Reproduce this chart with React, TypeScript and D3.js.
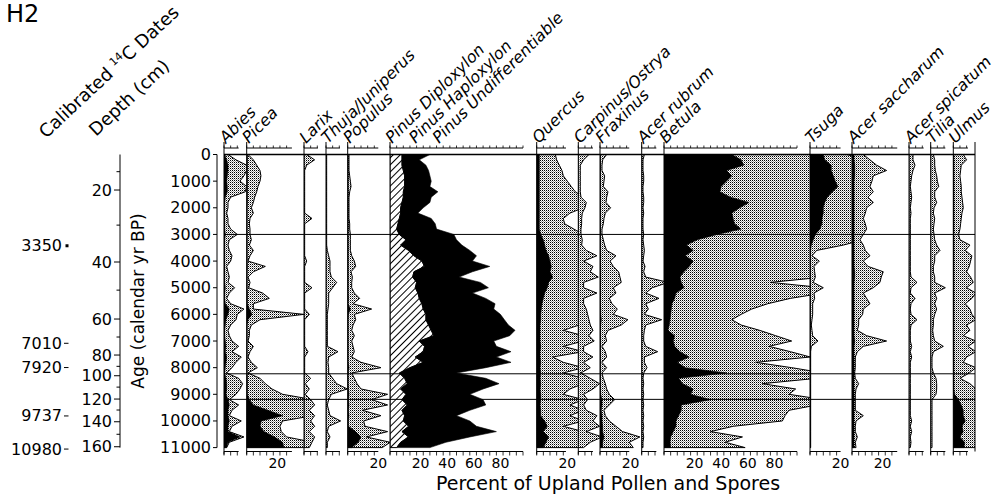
import React from "react";
import * as d3 from "d3";

// Sample ages (calendar yr BP)
const AGES = [
  0, 200, 400, 600, 800, 1000, 1200, 1400, 1600, 1800,
  2000, 2200, 2400, 2600, 2800, 3000, 3200, 3400, 3600, 3800,
  4000, 4200, 4400, 4600, 4800, 5000, 5200, 5400, 5600, 5800,
  6000, 6200, 6400, 6600, 6800, 7000, 7200, 7400, 7600, 7800,
  8000, 8200, 8400, 8600, 8800, 9000, 9200, 9400, 9600, 9800,
  10000, 10200, 10400, 10600, 10800, 11000,
];

// Age axis ticks
const AGE_TICKS = [0, 1000, 2000, 3000, 4000, 5000, 6000, 7000, 8000, 9000, 10000, 11000];

// Depth (cm) and the age at which each depth sits
const DEPTHS = [10, 20, 30, 40, 50, 60, 70, 80, 90, 100, 110, 120, 130, 140, 150, 160];
const DEPTH_AGES = [645, 1333, 2650, 4035, 5090, 6175, 6850, 7526, 7950, 8303, 8730, 9178, 9590, 10030, 10500, 10968];

// Calibrated radiocarbon dates
const DATES = [3350, 7010, 7920, 9737, 10980];
const DATE_MARKS = ["dot", "dash", "dash", "dash", "dash"];

// Zone boundaries (yr BP)
const ZONES = [3000, 8230, 9190];

// Percent values: solid curve and shaded (exaggerated) curve per taxon
const abies = [
  0.5, 2, 3, 3, 2.5, 2, 2.5, 2.5, 1, 0.5,
  0.5, 0.5, 0.5, 0.5, 0.5, 1, 0.5, 0.5, 0.5, 0.5,
  0.5, 0.5, 0.5, 0.5, 0.5, 1, 0.5, 0.5, 1, 4,
  3, 1.5, 1, 0.5, 0.5, 1, 1.5, 1, 2, 1.5,
  1, 0.5, 1.5, 2, 2, 1.5, 3, 4, 3, 3,
  4, 3, 3, 12, 3, 2,
];
const abiesExag = [
  3, 9, 17, 17, 15, 12, 17, 16, 5, 3,
  3, 2, 3, 3, 5, 10, 4, 3, 4, 6,
  5, 2, 3, 4, 3, 8, 4, 2, 5, 15,
  10, 9, 5, 3, 4, 6, 11, 6, 13, 9,
  6, 2, 11, 14, 12, 9, 4, 11, 6, 4,
  13, 6, 4, 15, 4, 2,
];
const picea = [
  0.5, 0.5, 0.5, 0.5, 0.5, 0.5, 0.5, 0.5, 0.5, 0.5,
  0.3, 0.3, 0.3, 0.3, 0.3, 0.3, 0.3, 0.3, 0.3, 0.3,
  0.3, 0.5, 0.3, 0.3, 0.3, 0.3, 0.5, 0.5, 0.5, 2,
  4, 1, 0.3, 0.3, 0.3, 0.3, 0.3, 0.3, 0.3, 0.3,
  0.3, 0.3, 0.5, 0.5, 0.5, 0.5, 2, 5, 16, 27,
  11, 10, 13, 21, 27, 28,
];
const piceaExag = [
  1, 5, 7.5, 10, 10.7, 10, 8.5, 7.5, 6, 5,
  3.5, 5, 2.5, 2, 2.5, 2.5, 3.5, 2, 5, 2.5,
  1, 14, 5, 1, 2.5, 1.5, 12, 17, 5, 5,
  43, 10, 3.5, 2, 2, 1, 5, 2.5, 1, 3.5,
  8, 1, 10, 14, 19, 27, 50, 50, 50, 50,
  27, 25, 26, 30, 50, 50,
];
const larixExag = [
  2, 8, 2, 0.5, 0.5, 0.5, 0.5, 0.5, 0.5, 0.5,
  0.5, 0.5, 6, 0.5, 0.5, 0.5, 0.5, 0.5, 0.5, 0.5,
  2, 0.5, 0.5, 0.5, 0.5, 6, 0.5, 0.5, 0.5, 0.5,
  4, 0.5, 0.5, 0.5, 0.5, 0.5, 0.5, 3, 0.5, 0.5,
  0.5, 0.5, 5, 1, 4, 1, 5, 8, 4, 8,
  5, 8, 4, 8, 6, 4,
];
const thujaExag = [
  0.5, 0.5, 0.5, 0.5, 0.5, 0.5, 0.5, 0.5, 0.5, 0.5,
  0.5, 0.5, 0.5, 0.5, 0.5, 0.5, 0.5, 0.5, 1, 2,
  3, 3, 3, 4, 8, 5, 2, 2, 2, 1.5,
  1, 1, 1, 1, 1, 1, 1, 9, 2, 1.5,
  2, 2, 5, 8, 16, 4, 2, 1, 2, 3,
  11, 2, 1, 3, 1, 1,
];
const populus = [
  0.3, 0.3, 0.3, 0.3, 0.3, 0.3, 0.3, 0.3, 0.3, 0.3,
  0.3, 0.3, 0.3, 0.3, 0.3, 0.3, 0.3, 0.3, 0.3, 0.3,
  0.3, 0.3, 0.3, 0.3, 0.3, 0.3, 0.3, 0.5, 0.3, 2,
  0.5, 0.3, 0.3, 0.3, 0.3, 0.3, 0.3, 0.3, 0.3, 0.3,
  1, 0.3, 0.3, 0.3, 0.5, 1, 0.5, 1, 0.5, 1,
  0.5, 0.5, 6, 10, 8, 3,
];
const populusExag = [
  1, 1, 1, 1, 1.5, 2, 2.5, 1.5, 1, 1,
  1, 1, 1, 1.5, 1.5, 2, 2, 2, 2, 3,
  5, 6, 2.5, 3.5, 3, 3, 5, 9, 4, 18,
  5, 6, 4, 3, 5, 3, 4, 5, 3, 10,
  25, 3, 5, 7, 10, 30, 18, 30, 11, 25,
  12, 13, 30, 14, 32, 26,
];
const pinusDiploxylon = [
  9, 9, 9, 10, 11, 11, 11, 10, 10, 9,
  8, 8, 7, 6, 5, 7, 12, 8, 14, 18,
  24, 26, 18, 17, 20, 19, 21, 22, 24, 25,
  27, 27, 29, 31, 33, 22, 26, 25, 19, 25,
  15, 7, 11, 13, 8, 12, 9, 13, 9, 11,
  10, 14, 9, 14, 8, 5,
];
const pinusHaploxylon = [
  21, 13, 18, 19, 19, 20, 19, 26, 21, 21,
  17, 13, 24, 28, 30, 41, 38, 46, 46, 47,
  38, 49, 44, 35, 48, 55, 41, 50, 55, 53,
  56, 59, 60, 63, 57, 56, 54, 66, 61, 66,
  57, 43, 61, 69, 62, 48, 61, 59, 51, 39,
  50, 51, 71, 46, 34, 25,
];
const quercus = [
  2, 2, 2, 2, 2, 2, 2, 2, 2, 2,
  2, 2, 2, 2, 2, 3, 5, 6, 7, 9,
  10, 11, 10, 12, 9, 8, 6, 5, 4, 3.5,
  3, 3, 2.5, 2.5, 2.5, 2.5, 3, 2.5, 2.5, 3,
  2.5, 3, 2.5, 3, 2.5, 3, 3, 2.5, 3, 3,
  6, 8, 5, 9, 7, 5,
];
const quercusExag = [
  14, 15, 17, 19, 20, 23, 26, 29, 35, 35,
  35, 25, 20, 21, 28, 35, 35, 35, 35, 35,
  35, 35, 35, 35, 35, 35, 35, 35, 35, 35,
  35, 35, 32, 20, 35, 35, 20, 35, 12, 20,
  35, 20, 35, 35, 25, 20, 35, 25, 35, 25,
  35, 20, 35, 35, 35, 35,
];
const carpinusExag = [
  8, 4, 1.5, 1.5, 1.5, 1.5, 1.5, 1.5, 2, 6,
  5, 3, 2.5, 2.5, 2, 2, 3, 2.5, 6, 14,
  4, 11, 9, 15, 4, 4, 14, 4, 4, 6,
  7, 8, 9, 11, 8, 12, 4, 4, 11, 4,
  9, 2, 9, 16, 11, 4, 7, 4, 6, 14,
  11, 16, 6, 18, 9, 4,
];
const fraxinus = [
  0.3, 0.3, 0.3, 0.3, 0.3, 0.3, 0.3, 0.3, 0.3, 0.3,
  0.3, 0.3, 0.3, 0.3, 0.3, 0.3, 0.3, 0.3, 0.3, 0.5,
  0.3, 0.5, 0.5, 0.5, 0.5, 0.3, 0.5, 0.3, 0.3, 0.5,
  0.5, 1, 0.5, 0.3, 0.3, 0.3, 0.3, 0.3, 0.3, 0.3,
  0.3, 0.3, 0.3, 0.3, 0.3, 0.5, 1.5, 1.5, 1, 1.5,
  1.5, 2, 2, 3, 2, 2,
];
const fraxinusExag = [
  5, 2, 1.5, 1.5, 3.5, 3, 2.5, 6, 5, 4.5,
  8, 4, 3, 2.5, 1.5, 1.5, 2.5, 3.5, 5, 12,
  7.5, 10, 14, 15, 16, 10, 12, 7, 9, 13,
  10, 21, 16, 6, 4, 5, 1.5, 4, 5, 1.5,
  5, 1.5, 2.5, 4, 5, 7, 11, 7, 3, 4,
  7, 12, 17, 30, 22, 25,
];
const acerRubrumExag = [
  2, 1, 1, 1, 1.5, 1.5, 1, 1, 1.5, 1.5,
  1, 1.5, 1, 1, 1, 1.5, 1, 1.5, 2, 1.5,
  1, 2.5, 1.5, 3, 20, 8, 3, 13, 3, 5,
  2, 15, 3, 2, 1.5, 1.5, 3, 12, 2, 2,
  4, 1.5, 1, 1.5, 1, 1.5, 1, 1.5, 1, 1.5,
  1, 1.5, 1, 1.5, 1, 1,
];
const betula = [
  51, 58, 60, 47, 51, 47, 43, 42, 50, 64,
  57, 51, 52, 53, 58, 40, 25, 17, 22, 16,
  22, 19, 15, 12, 13, 15, 9, 8, 6, 5.5,
  5, 4.5, 4, 3, 8, 7, 8, 12, 19, 10,
  16, 47, 11, 14, 22, 20, 35, 13, 13, 11,
  9, 9, 7, 5, 4.5, 5,
];
const betulaExag = [
  120, 120, 120, 120, 120, 120, 120, 120, 120, 120,
  120, 120, 120, 120, 120, 120, 120, 120, 120, 120,
  120, 120, 120, 120, 80, 120, 120, 95, 78, 66,
  58, 51, 58, 72, 84, 96, 79, 95, 110, 69,
  96, 120, 115, 74, 99, 94, 120, 115, 94, 91,
  89, 52, 35, 59, 46, 61,
];
const tsuga = [
  10, 11, 16, 16, 17.5, 19, 21, 17, 13, 11,
  10, 10, 9, 9, 7.5, 4, 2.5, 1, 0.3, 0.3,
  0.3, 0.3, 0.3, 0.3, 0.3, 0.3, 0.3, 0.3, 0.3, 0.3,
  0.3, 0.3, 0.3, 0.3, 0.3, 0.3, 0.3, 0.3, 0.3, 0.3,
  0.3, 0.3, 0.3, 0.3, 0.3, 0.3, 0.3, 0.3, 0.3, 0.3,
  0.3, 0.3, 0.3, 0.3, 0.3, 0.3,
];
const tsugaExag = [
  28, 40, 40, 40, 40, 40, 40, 40, 40, 40,
  40, 40, 40, 40, 40, 40, 40, 25, 5, 1.5,
  7, 3, 3.5, 4, 2.5, 10, 3, 3.5, 2, 2,
  2, 1.5, 1, 1.5, 2, 6, 1, 0.5, 0.5, 0.5,
  0.5, 0.5, 0.5, 0.5, 0.5, 0.5, 0.5, 0.5, 0.5, 0.5,
  0.5, 0.5, 0.5, 0.5, 0.5, 0.5,
];
const acerSaccharum = [
  1.5, 1.5, 2, 2, 2, 1.5, 1.5, 1.5, 1.5, 1.5,
  1.5, 1.5, 1.5, 1.5, 1.5, 1.5, 1.5, 1.5, 1.5, 1.5,
  1.5, 1.5, 2, 2, 1.5, 1.5, 1.5, 1.5, 1.5, 1.5,
  1.5, 1.5, 1.5, 1.5, 1.5, 2, 1.5, 1.5, 1.5, 1.5,
  1.5, 1.5, 1.5, 1.5, 1.5, 1.5, 1.5, 1.5, 1.5, 1.5,
  1.5, 1.5, 1.5, 1.5, 1.5, 1.5,
];
const acerSaccharumExag = [
  8.5, 13.5, 18.5, 26, 16, 15, 13.5, 16, 12, 16,
  11, 10, 8.5, 10, 11, 8.5, 6, 8.5, 10, 13.5,
  8.5, 12, 23.5, 22, 21, 16, 8.5, 11, 13.5, 8.5,
  8, 5, 5, 4, 11, 26, 8.5, 4, 2.5, 2.5,
  2.5, 2, 2.5, 5, 3, 2.5, 2.5, 2.5, 2.5, 8.5,
  3, 2.5, 2.5, 4, 2.5, 3,
];
const acerSpicatumExag = [
  3, 3, 4.5, 3, 2, 1.5, 1, 1.5, 2, 1.5,
  1, 1.5, 1, 1, 1, 1, 1, 1, 1, 1,
  1, 1, 1, 1.5, 6, 1.5, 1, 4.5, 1.5, 1,
  1.5, 6, 1.5, 1, 1, 1, 2, 1, 2, 1,
  1, 1, 1, 1, 1, 1, 1, 1, 1, 1,
  2, 1, 2, 1, 1.5, 1,
];
const tiliaExag = [
  2, 3, 3, 3.5, 4.5, 5, 6, 3, 3, 4.5,
  2.5, 2, 3, 2.5, 2, 2.5, 3, 4.5, 7, 3,
  3, 2, 2, 3, 3, 11, 3, 4.5, 3, 4.5,
  3, 2, 2, 1.5, 2, 3, 9.5, 2, 1, 1,
  1, 2, 4, 4.5, 4.5, 4, 1, 1, 1, 1,
  1, 1, 1, 1, 1, 1,
];
const ulmus = [
  0.5, 0.5, 0.5, 0.5, 0.5, 0.5, 0.5, 0.5, 0.5, 0.5,
  0.5, 0.5, 0.5, 0.5, 0.5, 0.5, 0.5, 0.5, 0.5, 0.5,
  0.5, 0.5, 0.5, 0.5, 0.5, 0.5, 0.5, 0.5, 0.5, 0.5,
  0.5, 0.5, 0.5, 0.5, 0.5, 0.5, 0.5, 0.5, 0.5, 0.5,
  0.5, 0.5, 0.5, 0.5, 0.5, 1, 4, 6, 7.5, 7.5,
  9, 6.5, 7.5, 5, 8.5, 8,
];
const ulmusExag = [
  7.5, 10, 6, 5.5, 5, 5.5, 6, 6, 6.5, 7,
  7.5, 6.5, 6, 5.5, 5, 4, 5, 12.5, 9, 14,
  13, 12, 10, 13, 15, 10, 17, 14, 9, 12.5,
  14, 17, 10, 12.5, 7.5, 17, 11, 17, 10, 7.5,
  17, 12, 5, 12.5, 17, 17, 20, 20, 20, 20,
  20, 20, 20, 20, 20, 20,
];

// ---- layout ----
const W = 996;
const H = 502;
const PX_PER_PCT = 1.33;
const TOP_SCALE_Y = 148;
const BOTTOM_SCALE_Y = 451.5;
const AXIS_TOP = 142;
const RIGHT_EDGE = 975;
const FONT = "'DejaVu Sans', sans-serif";

const yAge = d3.scaleLinear().domain([0, 11000]).range([154.5, 447.6]);

interface Panel {
  labels: string[];
  left: number;
  edge: number;
  axisMax: number;
  tickLabels: number[];
  solid?: number[];
  shade?: number[];
  hatch?: number[];
  stack?: number[];
}

const PANELS: Panel[] = [
  { labels: ["Abies"], left: 224, edge: 246.7, axisMax: 11, tickLabels: [], solid: abies, shade: abiesExag },
  { labels: ["Picea"], left: 246.7, edge: 304, axisMax: 34, tickLabels: [20], solid: picea, shade: piceaExag },
  { labels: ["Larix"], left: 304, edge: 326, axisMax: 10.5, tickLabels: [], shade: larixExag },
  { labels: ["Thuja/Juniperus"], left: 326, edge: 347.7, axisMax: 10.5, tickLabels: [], shade: thujaExag },
  { labels: ["Populus"], left: 347.7, edge: 390, axisMax: 23, tickLabels: [20], solid: populus, shade: populusExag },
  {
    labels: ["Pinus Diploxylon", "Pinus Haploxylon", "Pinus Undifferentiable"],
    left: 390, edge: 536.7, axisMax: 100, tickLabels: [20, 40, 60, 80],
    hatch: pinusDiploxylon, stack: pinusHaploxylon,
  },
  { labels: ["Quercus"], left: 536.7, edge: 578.3, axisMax: 22, tickLabels: [20], solid: quercus, shade: quercusExag },
  { labels: ["Carpinus/Ostrya"], left: 578.3, edge: 600, axisMax: 11, tickLabels: [], shade: carpinusExag },
  { labels: ["Fraxinus"], left: 600, edge: 641.7, axisMax: 22, tickLabels: [20], solid: fraxinus, shade: fraxinusExag },
  { labels: ["Acer rubrum"], left: 641.7, edge: 664, axisMax: 11, tickLabels: [], shade: acerRubrumExag },
  { labels: ["Betula"], left: 664, edge: 810, axisMax: 100, tickLabels: [20, 40, 60, 80], solid: betula, shade: betulaExag },
  { labels: ["Tsuga"], left: 810, edge: 852, axisMax: 23, tickLabels: [20], solid: tsuga, shade: tsugaExag },
  { labels: ["Acer saccharum"], left: 852, edge: 909, axisMax: 34, tickLabels: [20], solid: acerSaccharum, shade: acerSaccharumExag },
  { labels: ["Acer spicatum"], left: 909, edge: 930.7, axisMax: 11, tickLabels: [], shade: acerSpicatumExag },
  { labels: ["Tilia"], left: 930.7, edge: 953.3, axisMax: 11, tickLabels: [], shade: tiliaExag },
  { labels: ["Ulmus"], left: 953.3, edge: RIGHT_EDGE, axisMax: 11, tickLabels: [], solid: ulmus, shade: ulmusExag },
];

function areaPath(x: d3.ScaleLinear<number, number>, values: number[], base?: number[]) {
  const gen = d3
    .area<number>()
    .curve(d3.curveLinear)
    .y((_, j) => yAge(AGES[j]))
    .x0((_, j) => x(base ? base[j] : 0))
    .x1((v, j) => x((base ? base[j] : 0) + v));
  return gen(values) || "";
}

function PanelView({ p, i }: { p: Panel; i: number }) {
  const x = d3.scaleLinear().domain([0, 100]).range([p.left, p.left + 100 * PX_PER_PCT]);
  const ticks = d3.range(0, p.axisMax + 0.001, 5);
  const axisEnd = x(p.axisMax);
  return (
    <g>
      <g clipPath={`url(#clip${i})`}>
        {p.shade && (
          <path d={areaPath(x, p.shade)} fill="url(#stipple)" stroke="#000" strokeWidth={1} strokeLinejoin="miter" />
        )}
        {p.solid && <path d={areaPath(x, p.solid)} fill="#000" stroke="#000" strokeWidth={0.6} />}
        {p.hatch && (
          <path d={areaPath(x, p.hatch)} fill="url(#hatch)" stroke="#000" strokeWidth={1} />
        )}
        {p.hatch && p.stack && (
          <path d={areaPath(x, p.stack, p.hatch)} fill="#000" stroke="#000" strokeWidth={0.6} />
        )}
      </g>
      {/* panel zero line */}
      <line x1={p.left} x2={p.left} y1={AXIS_TOP} y2={BOTTOM_SCALE_Y + 3} stroke="#000" strokeWidth={1} />
      {/* top scale */}
      <line x1={p.left} x2={axisEnd} y1={TOP_SCALE_Y} y2={TOP_SCALE_Y} stroke="#000" strokeWidth={1} />
      {ticks.map((t) => (
        <line key={`tt${t}`} x1={x(t)} x2={x(t)} y1={TOP_SCALE_Y - 2.5} y2={TOP_SCALE_Y} stroke="#000" strokeWidth={0.8} />
      ))}
      {/* bottom scale */}
      <line x1={p.left} x2={axisEnd} y1={BOTTOM_SCALE_Y} y2={BOTTOM_SCALE_Y} stroke="#000" strokeWidth={1} />
      {ticks.map((t) => (
        <line key={`bt${t}`} x1={x(t)} x2={x(t)} y1={BOTTOM_SCALE_Y} y2={BOTTOM_SCALE_Y + 4} stroke="#000" strokeWidth={0.8} />
      ))}
      {p.tickLabels.map((t) => (
        <text key={`bl${t}`} x={x(t) + 4} y={468} fontSize={14} textAnchor="middle" fill="#000">
          {t}
        </text>
      ))}
      {p.labels.map((lab, k) => (
        <text
          key={lab}
          transform={`translate(${p.left + 2 + k * 23.5},144) rotate(-45)`}
          fontSize={16}
          fontStyle="italic"
          fill="#000"
        >
          {lab}
        </text>
      ))}
    </g>
  );
}

export default function App() {
  return (
    <svg
      width={W}
      height={H}
      viewBox={`0 0 ${W} ${H}`}
      style={{ position: "absolute", left: 0, top: 0, background: "#fff" }}
      fontFamily={FONT}
    >
      <defs>
        <pattern id="stipple" width={2} height={2} patternUnits="userSpaceOnUse">
          <rect x={0} y={0} width={1} height={1} fill="#000" />
          <rect x={1} y={1} width={1} height={1} fill="#9a9a9a" />
        </pattern>
        <pattern id="hatch" width={5} height={5} patternUnits="userSpaceOnUse" patternTransform="rotate(45)">
          <line x1={2.5} y1={0} x2={2.5} y2={5} stroke="#000" strokeWidth={1} />
        </pattern>
        {PANELS.map((p, i) => (
          <clipPath id={`clip${i}`} key={i}>
            <rect x={p.left} y={140} width={p.edge - p.left} height={320} />
          </clipPath>
        ))}
      </defs>
      <rect x={0} y={0} width={W} height={H} fill="#fff" />

      {/* site label */}
      <text x={6} y={22} fontSize={24} fill="#000">H2</text>

      {/* column titles */}
      <text transform="translate(46,139) rotate(-43)" fontSize={18} fill="#000">
        Calibrated <tspan fontSize={11} dy={-7}>14</tspan>
        <tspan dy={7}>C Dates</tspan>
      </text>
      <text transform="translate(96,137) rotate(-43)" fontSize={18} fill="#000">
        Depth (cm)
      </text>

      {/* calibrated dates */}
      {DATES.map((d, i) => {
        const yy = yAge(d) + 2;
        return (
          <g key={d}>
            <text x={62} y={yy} fontSize={16} textAnchor="end" dominantBaseline="central" fill="#000">
              {d}
            </text>
            {DATE_MARKS[i] === "dot" ? (
              <rect x={65.5} y={yy - 1.5} width={3} height={3} fill="#000" />
            ) : (
              <line x1={64} x2={68.5} y1={yy} y2={yy} stroke="#000" strokeWidth={1} />
            )}
          </g>
        );
      })}

      {/* depth axis */}
      <line x1={120} x2={120} y1={yAge(0)} y2={yAge(11000)} stroke="#000" strokeWidth={1} />
      {DEPTHS.map((dp, i) => {
        const yy = yAge(DEPTH_AGES[i]);
        const major = dp % 20 === 0;
        return (
          <g key={dp}>
            <line x1={major ? 114 : 116.5} x2={120} y1={yy} y2={yy} stroke="#000" strokeWidth={1} />
            {major && (
              <text x={112} y={yy} fontSize={16} textAnchor="end" dominantBaseline="central" fill="#000">
                {dp}
              </text>
            )}
          </g>
        );
      })}

      {/* age axis */}
      <text transform={`translate(144.3,301) rotate(-90)`} fontSize={17} textAnchor="middle" fill="#000">
        Age (calendar yr BP)
      </text>
      <line x1={217} x2={217} y1={yAge(0)} y2={yAge(11000)} stroke="#000" strokeWidth={1} />
      {AGE_TICKS.map((a) => (
        <g key={a}>
          <line x1={213} x2={217} y1={yAge(a)} y2={yAge(a)} stroke="#000" strokeWidth={1} />
          <text x={211} y={yAge(a)} fontSize={16} textAnchor="end" dominantBaseline="central" fill="#000">
            {a}
          </text>
        </g>
      ))}

      {/* pollen panels */}
      {PANELS.map((p, i) => (
        <PanelView key={i} p={p} i={i} />
      ))}

      {/* top line and zone boundaries */}
      <line x1={224} x2={RIGHT_EDGE} y1={yAge(0)} y2={yAge(0)} stroke="#000" strokeWidth={1.6} />
      {ZONES.map((z) => (
        <line key={z} x1={224} x2={RIGHT_EDGE} y1={yAge(z)} y2={yAge(z)} stroke="#000" strokeWidth={1} />
      ))}
      <line x1={RIGHT_EDGE} x2={RIGHT_EDGE} y1={AXIS_TOP} y2={BOTTOM_SCALE_Y} stroke="#000" strokeWidth={1} />

      <text x={608} y={490} fontSize={19} textAnchor="middle" fill="#000">
        Percent of Upland Pollen and Spores
      </text>
    </svg>
  );
}
